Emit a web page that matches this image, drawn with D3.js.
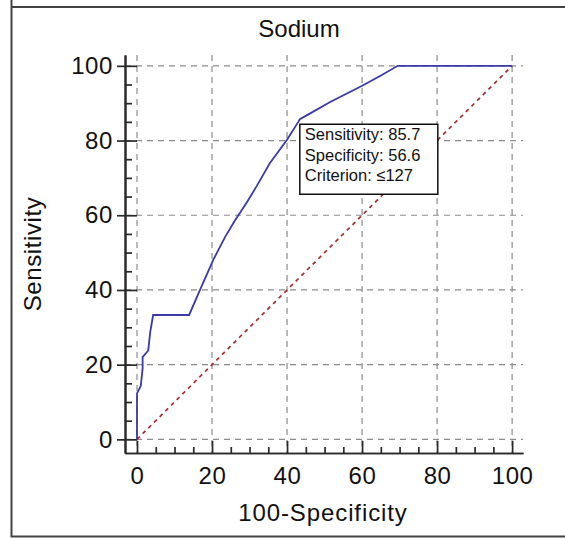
<!DOCTYPE html>
<html>
<head>
<meta charset="utf-8">
<script src="https://cdn.jsdelivr.net/npm/d3@7"></script>
<style>
  body { margin: 0; background: #fff; }
  svg text { font-family: "Liberation Sans", Arial, sans-serif; fill: #111; }
</style>
</head>
<body>
<svg width="565" height="538"></svg>
<script>

// ROC curve
let fpr  = [0, 0, 1.0, 1.5, 1.5, 3.0, 3.5, 4.3, 13.9, 16.8, 20.3, 23.5, 26.1, 29.3, 31.9, 35.4, 39.9, 43.0, 43.4, 45.7, 51.5, 59.9, 64.8, 69.5, 100]
let sens = [0, 12.3, 14.3, 19.0, 22.0, 23.8, 28.6, 33.3, 33.3, 40.0, 48.0, 54.2, 58.6, 63.5, 67.8, 73.9, 80.1, 85.0, 85.7, 87.0, 90.3, 94.6, 97.3, 100, 100]

let majorTicks = [0, 20, 40, 60, 80, 100]
let minorTicks = [5, 10, 15, 25, 30, 35, 45, 50, 55, 65, 70, 75, 85, 90, 95]
let diagonal = [0, 100]

let chartTitle = 'Sodium'
let xTitle = '100-Specificity'
let yTitle = 'Sensitivity'

// point marked on the curve
let marker = {sens: 85.7, spec: 56.6, criterion: '\u2264127'}
let markerLines = ['Sensitivity: ' + marker.sens, 'Specificity: ' + marker.spec, 'Criterion: ' + marker.criterion]


let svg = d3.select('svg')

let x = d3.scaleLinear().domain([-3.2, 102.9]).range([125, 523])
let y = d3.scaleLinear().domain([-3.65, 102.9]).range([453, 55])

/* Marco */
svg.append('path')
  .attr('d', 'M 11.5 0 V 536.5 H 565 M 11.5 7 H 565')
  .attr('fill', 'none')
  .attr('stroke', '#444')
  .attr('stroke-width', 2)

/* Rejilla */
let grid = svg.append('g').attr('class', 'grid')
  .attr('stroke', '#8c8c8c').attr('stroke-width', 1.2).attr('stroke-dasharray', '6,5')

grid.selectAll('line.v').data(majorTicks).enter().append('line')
  .attr('x1', d => x(d)).attr('x2', d => x(d))
  .attr('y1', y.range()[1]).attr('y2', y.range()[0])

grid.selectAll('line.h').data(majorTicks).enter().append('line')
  .attr('y1', d => y(d)).attr('y2', d => y(d))
  .attr('x1', x.range()[0]).attr('x2', x.range()[1])

/* Ejes */
let estilo = g => {
  g.selectAll('path, line').attr('stroke', '#2a2a2a').attr('stroke-width', 1.7)
  g.selectAll('text').attr('font-size', 24).attr('fill', '#111')
    .attr('font-family', '"Liberation Sans", Arial, sans-serif')
    .attr('letter-spacing', 0.6)
}

svg.append('g')
  .attr('transform', `translate(0,${y.range()[0]})`)
  .call(d3.axisBottom(x).tickValues(minorTicks).tickSizeInner(-6).tickSizeOuter(0).tickFormat(''))
  .call(estilo)

svg.append('g')
  .attr('transform', `translate(0,${y.range()[0]})`)
  .call(d3.axisBottom(x).tickValues(majorTicks).tickSizeInner(-12).tickSizeOuter(0).tickPadding(14))
  .call(estilo)

svg.append('g')
  .attr('transform', `translate(${x.range()[0]},0)`)
  .call(d3.axisLeft(y).tickValues(minorTicks).tickSizeInner(-7).tickSizeOuter(0).tickFormat(''))
  .call(estilo)

svg.append('g')
  .attr('transform', `translate(${x.range()[0]},0)`)
  .call(d3.axisLeft(y).tickValues(majorTicks).tickSizeInner(8).tickSizeOuter(0).tickFormat(''))
  .call(estilo)

svg.append('g')
  .attr('transform', `translate(${x.range()[0]},0)`)
  .call(d3.axisLeft(y).tickValues(majorTicks).tickSizeInner(-12).tickSizeOuter(0).tickPadding(12))
  .call(estilo)

/* Lineas */
let line = d3.line().x(d => x(d[0])).y(d => y(d[1]))

svg.append('path')
  .datum(diagonal.map(d => [d, d]))
  .attr('d', line)
  .attr('fill', 'none')
  .attr('stroke', '#a52e2e')
  .attr('stroke-width', 1.7)
  .attr('stroke-dasharray', '4,4')

svg.append('path')
  .datum(fpr.map((d, i) => [d, sens[i]]))
  .attr('d', line)
  .attr('fill', 'none')
  .attr('stroke', '#3a3aa6')
  .attr('stroke-width', 1.8)

/* Recuadro */
let px = x(100 - marker.spec), py = y(marker.sens)
let caja = svg.append('g').attr('transform', `translate(${px},${py + 5})`)

caja.append('rect')
  .attr('x', 0).attr('y', 0).attr('width', 138).attr('height', 70)
  .attr('fill', '#fff').attr('stroke', '#111').attr('stroke-width', 1.5)

caja.selectAll('text').data(markerLines).enter().append('text')
  .attr('x', 5).attr('y', (d, i) => 16 + i * 20.5)
  .attr('font-size', 16.5)
  .text(d => d)

/* Titulos */
svg.append('text')
  .attr('x', 299).attr('y', 37)
  .attr('text-anchor', 'middle').attr('font-size', 24)
  .text(chartTitle)

svg.append('text')
  .attr('x', 323).attr('y', 521)
  .attr('text-anchor', 'middle').attr('font-size', 24)
  .attr('letter-spacing', 0.9)
  .text(xTitle)

svg.append('text')
  .attr('transform', 'translate(41,254) rotate(-90)')
  .attr('text-anchor', 'middle').attr('font-size', 24)
  .attr('letter-spacing', 0.6)
  .text(yTitle)

</script>
</body>
</html>
